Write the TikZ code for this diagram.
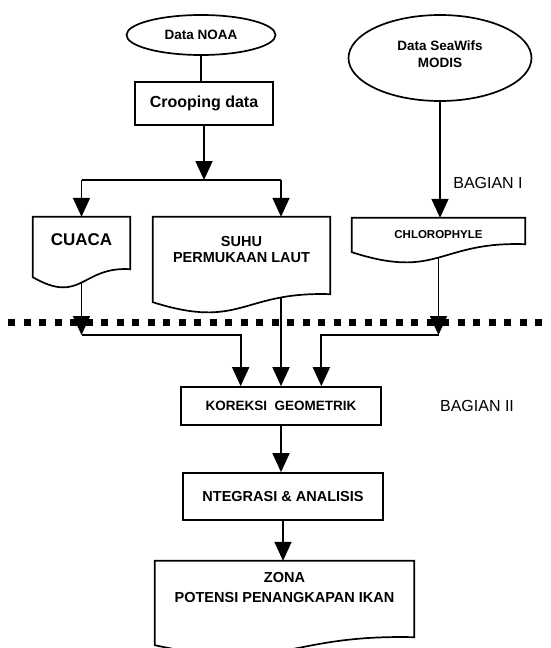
\documentclass[tikz,border=0pt]{standalone}
\usepackage{fontspec}
\setmainfont{Liberation Sans}
\usetikzlibrary{shapes.geometric,arrows.meta,calc}
\tikzstyle{garis} = [line width=1.7pt]
\tikzstyle{panah} = [garis, -{Triangle[width=17pt,length=19pt]}]
\tikzstyle{kotak} = [draw, line width=1.7pt, rectangle, align=center, inner sep=0pt]
\tikzstyle{elips} = [draw, line width=1.7pt, ellipse, align=center, inner sep=0pt]
\tikzstyle{dok} = [rectangle, align=center, inner sep=0pt]
\tikzstyle{bagian} = [font=\fontsize{16}{18}\selectfont]
\tikzstyle{batas} = [line width=7pt, dash pattern=on 7pt off 8.5pt]
% outline with wavy bottom, #2 = extra depth below the node
\newcommand{\dokumen}[2]{%
  \draw[garis] (#1.north west) -- (#1.north east)
    -- ($(#1.south east)+(0,#2-8)$)
    .. controls ($(#1.south west)!0.5!(#1.south east)+(0,#2-11)$)
    and ($(#1.south west)!0.5!(#1.south east)+(0,#2+28)$)
    .. ($(#1.south west)+(0,#2)$) -- cycle;}
\newcommand{\tulis}[2]{\bfseries\fontsize{#1}{#2}\selectfont}

\begin{document}
\begin{tikzpicture}[x=1pt, y=-1pt]
	\useasboundingbox[fill=white] (0,0) rectangle (551,648);
	% Nodes
	\node[elips, minimum width=149pt, minimum height=40pt, font=\tulis{13.5}{15}] (noaa) at (201,35) {Data NOAA};
	\node[elips, minimum width=183pt, minimum height=86pt, font=\tulis{13.5}{17}] (seawifs) at (440,58) {Data SeaWifs\\MODIS\\[-9pt]};
	\node[kotak, minimum width=138pt, minimum height=43pt, font=\tulis{16}{18}] (crop) at (204,103.5) {Crooping data};
	\node[dok, minimum width=97pt, minimum height=46pt, font=\tulis{17}{19}] (cuaca) at (81.5,240) {CUACA};
	\node[dok, minimum width=177pt, minimum height=65pt, font=\tulis{14.5}{16}] (suhu) at (241.5,249.5) {SUHU\\PERMUKAAN LAUT};
	\node[dok, minimum width=173pt, minimum height=34pt, font=\tulis{11.5}{13}] (chloro) at (438.5,235) {CHLOROPHYLE};
	\node[kotak, minimum width=200pt, minimum height=38pt, font=\tulis{13.5}{16}] (koreksi) at (281,406) {KOREKSI\ \ GEOMETRIK};
	\node[kotak, minimum width=200pt, minimum height=47pt, font=\tulis{14.5}{17}] (integrasi) at (283,496.5) {NTEGRASI \& ANALISIS};
	\node[dok, minimum width=259pt, minimum height=54pt, font=\tulis{14.5}{20}] (zona) at (284.5,588) {ZONA\\POTENSI PENANGKAPAN IKAN};
	\node[bagian] (bagian1) at (488,183) {BAGIAN I};
	\node[bagian] (bagian2) at (477,406) {BAGIAN II};
	\dokumen{cuaca}{14}
	\dokumen{suhu}{20}
	\dokumen{chloro}{0}
	\dokumen{zona}{30}
	\coordinate (cabang) at (203,180);
	\coordinate (garisbawah) at (0,335);
	% Divider
	\draw[batas] (8,322) -- (551,322);
	% Arrows
	\draw[garis] (noaa.south) -- (noaa.south |- crop.north);
	\draw[panah] (crop.south) -- (crop.south |- cabang);
	\draw[garis] (cuaca.north |- cabang) -- (koreksi.north |- cabang);
	\draw[panah] (cuaca.north |- cabang) -- (cuaca.north);
	\draw[panah] (koreksi.north |- cabang) -- (koreksi.north |- suhu.north);
	\draw[panah] (seawifs.south) -- (seawifs.south |- chloro.north);
	\draw[panah] ($(cuaca.south)+(0,19)$) -- (cuaca.south |- garisbawah);
	\draw[panah] (cuaca.south |- garisbawah) -| ($(koreksi.north west)!0.3!(koreksi.north east)$);
	\draw[panah] ($(suhu.south -| koreksi.north)+(0,15)$) -- (koreksi.north);
	\draw[panah] ($(chloro.south)+(0,5)$) -- (chloro.south |- garisbawah);
	\draw[panah] (chloro.south |- garisbawah) -| ($(koreksi.north west)!0.7!(koreksi.north east)$);
	\draw[panah] (koreksi.south) -- (koreksi.south |- integrasi.north);
	\draw[panah] (integrasi.south) -- (integrasi.south |- zona.north);
\end{tikzpicture}
\end{document}
